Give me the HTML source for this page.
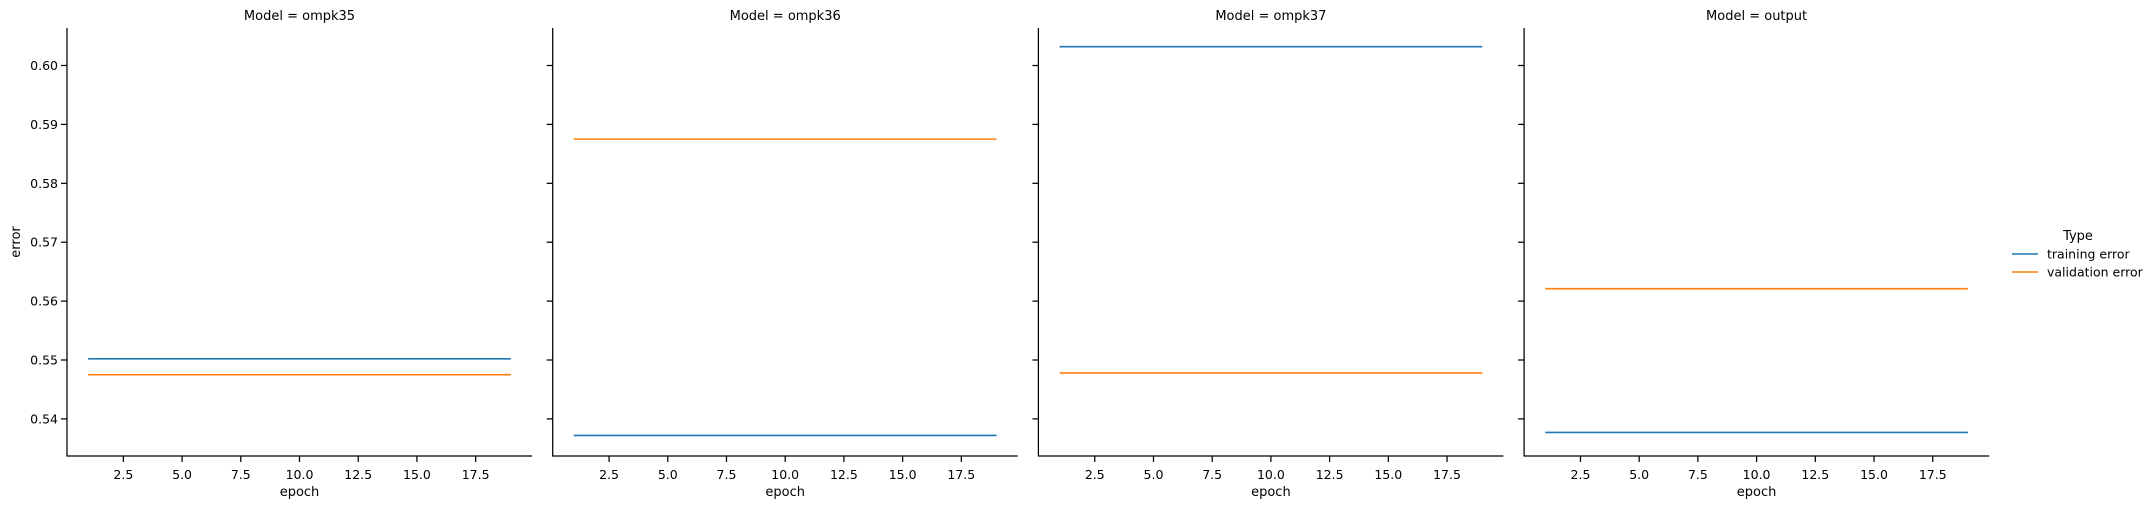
<!DOCTYPE html>
<html><head><meta charset="utf-8"><style>
body{margin:0;background:#fff}
svg{display:block;font-family:"DejaVu Sans","Liberation Sans",sans-serif}
</style></head><body>
<svg id="chart" width="2152" height="509" viewBox="0 0 2152 509" xmlns="http://www.w3.org/2000/svg"></svg>
<script>
const panels = ["ompk35", "ompk36", "ompk37", "output"];
const epochs = [1,2,3,4,5,6,7,8,9,10,11,12,13,14,15,16,17,18,19];
const trainingError = [
  [0.5502,0.5502,0.5502,0.5502,0.5502,0.5502,0.5502,0.5502,0.5502,0.5502,0.5502,0.5502,0.5502,0.5502,0.5502,0.5502,0.5502,0.5502,0.5502],
  [0.5372,0.5372,0.5372,0.5372,0.5372,0.5372,0.5372,0.5372,0.5372,0.5372,0.5372,0.5372,0.5372,0.5372,0.5372,0.5372,0.5372,0.5372,0.5372],
  [0.6032,0.6032,0.6032,0.6032,0.6032,0.6032,0.6032,0.6032,0.6032,0.6032,0.6032,0.6032,0.6032,0.6032,0.6032,0.6032,0.6032,0.6032,0.6032],
  [0.5377,0.5377,0.5377,0.5377,0.5377,0.5377,0.5377,0.5377,0.5377,0.5377,0.5377,0.5377,0.5377,0.5377,0.5377,0.5377,0.5377,0.5377,0.5377]
];
const validationError = [
  [0.5475,0.5475,0.5475,0.5475,0.5475,0.5475,0.5475,0.5475,0.5475,0.5475,0.5475,0.5475,0.5475,0.5475,0.5475,0.5475,0.5475,0.5475,0.5475],
  [0.5875,0.5875,0.5875,0.5875,0.5875,0.5875,0.5875,0.5875,0.5875,0.5875,0.5875,0.5875,0.5875,0.5875,0.5875,0.5875,0.5875,0.5875,0.5875],
  [0.5478,0.5478,0.5478,0.5478,0.5478,0.5478,0.5478,0.5478,0.5478,0.5478,0.5478,0.5478,0.5478,0.5478,0.5478,0.5478,0.5478,0.5478,0.5478],
  [0.5621,0.5621,0.5621,0.5621,0.5621,0.5621,0.5621,0.5621,0.5621,0.5621,0.5621,0.5621,0.5621,0.5621,0.5621,0.5621,0.5621,0.5621,0.5621]
];
const xTicks = [2.5,5,7.5,10,12.5,15,17.5];
const xTickLabels = ["2.5","5.0","7.5","10.0","12.5","15.0","17.5"];
const yTicks = [0.54,0.55,0.56,0.57,0.58,0.59,0.60];
const yTickLabels = ["0.54","0.55","0.56","0.57","0.58","0.59","0.60"];

const NS = "http://www.w3.org/2000/svg";
const svg = document.getElementById("chart");
const X0 = 67, PW = 465, GAP = 485.7, TOP = 28, BOT = 456;
const XMIN = 0.1, XMAX = 19.9;
const Y_AT_060 = 65.5, PX_PER = 5890;
function xs(p, v){ return X0 + p*GAP + (v - XMIN)/(XMAX - XMIN)*PW; }
function ys(v){ return Y_AT_060 + (0.60 - v)*PX_PER; }
function mk(tag, attrs, parent){
  const e = document.createElementNS(NS, tag);
  for (const k in attrs) e.setAttribute(k, attrs[k]);
  (parent||svg).appendChild(e);
  return e;
}
const colors = ["#1f77b4", "#ff7f0e"];
panels.forEach((name, p) => {
  const g = mk("g", {});
  
  
  const left = X0 + p*GAP;
  const t = mk("text", {x: left + PW/2, y: 20, "text-anchor": "middle", "font-size": 13}, g);
  t.textContent = "Model = " + name;
  
  
  [trainingError[p], validationError[p]].forEach((series, s) => {
    const pts = epochs.map((e, i) => xs(p, e).toFixed(2) + "," + ys(series[i]).toFixed(2)).join(" ");
    const l = mk("polyline", {points: pts, fill: "none", stroke: colors[s], "stroke-width": 1.6}, g);
    
    
  });
  const ax = mk("path", {d: `M${left},${TOP}V${BOT}H${left+PW}`, fill: "none", stroke: "#000", "stroke-width": 1.25}, g);
  
  
  yTicks.forEach((v, i) => {
    const y = ys(v);
    const tk = mk("line", {x1: left-6, x2: left, y1: y, y2: y, stroke: "#000", "stroke-width": 1.25}, g);
    
    
    if (p === 0) {
      const tl = mk("text", {x: left-9, y: y+4.5, "text-anchor": "end", "font-size": 12.5}, g);
      tl.textContent = yTickLabels[i];
      
      
    }
  });
  xTicks.forEach((v, i) => {
    const x = xs(p, v);
    const tk = mk("line", {x1: x, x2: x, y1: BOT, y2: BOT+6, stroke: "#000", "stroke-width": 1.25}, g);
    
    
    const tl = mk("text", {x: x, y: BOT+23, "text-anchor": "middle", "font-size": 12.5}, g);
    tl.textContent = xTickLabels[i];
    
    
  });
  const xl = mk("text", {x: left + PW/2, y: 496, "text-anchor": "middle", "font-size": 13}, g);
  xl.textContent = "epoch";
  
  
});
const yl = mk("text", {x: 0, y: 0, "text-anchor": "middle", "font-size": 13, transform: "translate(20,242) rotate(-90)"});
yl.textContent = "error";



const lg = mk("g", {});


const lt = mk("text", {x: 2078, y: 240, "text-anchor": "middle", "font-size": 13}, lg);
lt.textContent = "Type";


["training error", "validation error"].forEach((lab, i) => {
  const y = 254 + i*18;
  const ln = mk("line", {x1: 2012, x2: 2038, y1: y, y2: y, stroke: colors[i], "stroke-width": 1.6}, lg);
  
  
  const tx = mk("text", {x: 2047, y: y+4.5, "font-size": 12.5}, lg);
  tx.textContent = lab;
  
  
});
</script>
</body></html>
